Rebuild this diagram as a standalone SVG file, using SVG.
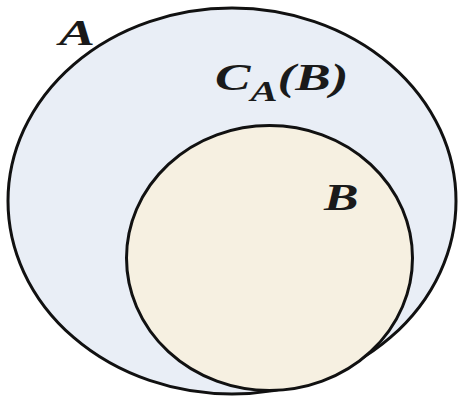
<svg xmlns="http://www.w3.org/2000/svg" width="462" height="400" viewBox="0 0 462 400">
<style>
.set{stroke:#111;stroke-width:3}
.lbl{font-family:"Liberation Serif","Times New Roman",serif;font-weight:bold;font-style:italic;fill:#1a1a1a}
</style>
<rect width="462" height="400" fill="#ffffff"/>
<g id="setA">
<ellipse class="set" cx="232" cy="201" rx="224" ry="193" fill="#e9eef6"/>
<text class="lbl" transform="translate(59,45) scale(1.5,1)" font-size="36">A</text>
</g>
<g id="complement">
<text class="lbl" transform="translate(215,90) scale(1.4,1)" font-size="38">C<tspan font-size="29" dy="11">A</tspan><tspan dy="-11">(B)</tspan></text>
</g>
<g id="setB">
<ellipse class="set" cx="269.5" cy="258" rx="143" ry="132.5" fill="#f6f0e1"/>
<text class="lbl" transform="translate(324,210) scale(1.4,1)" font-size="37">B</text>
</g>
<g id="connectors"/>
</svg>
